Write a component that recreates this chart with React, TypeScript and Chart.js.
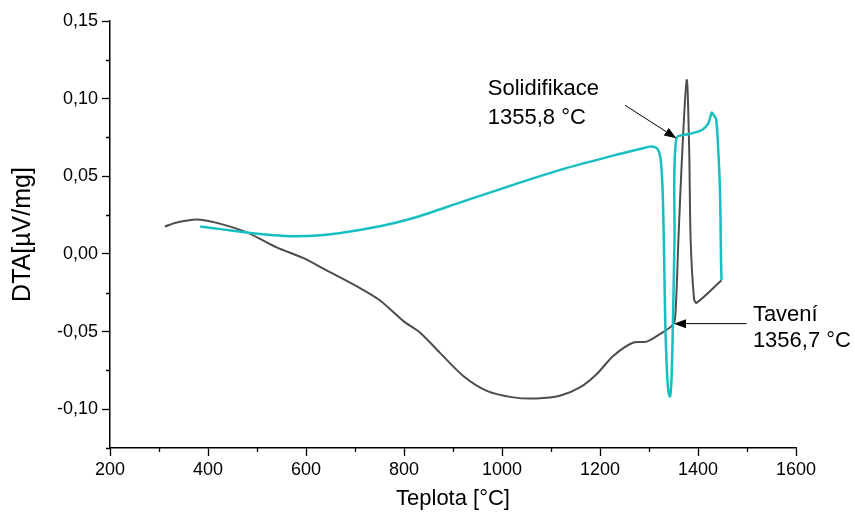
import { useEffect, useRef } from 'react';
import { Chart, registerables } from 'chart.js';

Chart.register(...registerables);

// Heating run (melting)
const heatT = [
  312, 340, 377, 418, 479, 540, 594, 649, 703, 751, 799, 833, 873, 921, 969,
  1023, 1071, 1118, 1159, 1193, 1227, 1267, 1295, 1322, 1346, 1353, 1360, 1367,
  1377, 1382, 1385, 1392, 1397, 1448,
];
const heatDTA = [
  0.0177, 0.0205, 0.0222, 0.02, 0.0139, 0.0042, -0.0026, -0.0118, -0.0208, -0.030,
  -0.0433, -0.0507, -0.0636, -0.0786, -0.0882, -0.0924, -0.0931, -0.0914, -0.086,
  -0.0775, -0.0657, -0.0572, -0.0565, -0.0517, -0.0465, -0.0424, 0.009, 0.06,
  0.112, 0.067, 0.009, -0.029, -0.0315, -0.017,
];

// Cooling run (solidification)
const coolT = [
  384, 430, 486, 530, 574, 630, 690, 751, 819, 921, 1023, 1124, 1227, 1282, 1302,
  1312, 1319, 1324, 1328, 1331, 1333, 1337, 1340, 1343, 1346, 1349, 1352, 1355.8,
  1382, 1408, 1421, 1428, 1432, 1437, 1441, 1445, 1447, 1448,
];
const coolDTA = [
  0.0177, 0.0158, 0.0135, 0.0122, 0.0113, 0.012, 0.0145, 0.0178, 0.0231, 0.0338,
  0.0445, 0.0546, 0.0633, 0.0676, 0.0691, 0.0688, 0.0668, 0.0605, 0.039, -0.004,
  -0.042, -0.078, -0.0895, -0.0918, -0.08, -0.042, 0.009, 0.0745, 0.0772, 0.0798,
  0.0841, 0.0909, 0.0895, 0.0867, 0.069, 0.039, -0.004, -0.0169,
];

const xMinorTicks = [300, 500, 700, 900, 1100, 1300, 1500];
const yMinorTicks = [0.125, 0.075, 0.025, -0.025, -0.075, -0.125];

const solidText = ['Solidifikace', '1355,8 °C'];
const meltText = ['Tavení', '1356,7 °C'];

// annotation anchors in data units: [temperature, DTA]
const solidTextAt = [971, 0.1022];
const meltTextAt = [1512, -0.0435];
const solidArrowFrom = [1251, 0.0958];
const solidArrowTo = [1355.8, 0.0745];
const meltArrowFrom = [1499, -0.0449];
const meltArrowTo = [1351, -0.0449];

const FONT = "'Liberation Sans', Arial, sans-serif";

const toPoints = (xs: number[], ys: number[]) => xs.map((x, i) => ({ x, y: ys[i] }));

// keep only ticks on the 0.05 grid (drops the -0.125 axis end)
const keepMajor = (scale: any) => {
  scale.ticks = scale.ticks.filter((t: any) => Math.abs(t.value / 0.05 - Math.round(t.value / 0.05)) < 1e-6);
};

const minorTickPlugin = {
  id: 'minorTicks',
  afterDraw(chart: any) {
    const { ctx, chartArea, scales } = chart;
    ctx.save();
    ctx.strokeStyle = '#000';
    ctx.lineWidth = 1.3;
    ctx.beginPath();
    xMinorTicks.forEach((v) => {
      const px = Math.round(scales.x.getPixelForValue(v)) + 0.5;
      ctx.moveTo(px, chartArea.bottom);
      ctx.lineTo(px, chartArea.bottom + 4);
    });
    yMinorTicks.forEach((v) => {
      const py = Math.round(scales.y.getPixelForValue(v)) + 0.5;
      ctx.moveTo(chartArea.left, py);
      ctx.lineTo(chartArea.left - 4, py);
    });
    ctx.stroke();
    ctx.restore();
  },
};

function drawArrow(ctx: CanvasRenderingContext2D, x1: number, y1: number, x2: number, y2: number) {
  const ang = Math.atan2(y2 - y1, x2 - x1);
  const headLen = 12;
  const headHalf = 4.5;
  const bx = x2 - headLen * Math.cos(ang);
  const by = y2 - headLen * Math.sin(ang);
  ctx.beginPath();
  ctx.moveTo(x1, y1);
  ctx.lineTo(bx, by);
  ctx.stroke();
  ctx.beginPath();
  ctx.moveTo(x2, y2);
  ctx.lineTo(bx + headHalf * Math.sin(ang), by - headHalf * Math.cos(ang));
  ctx.lineTo(bx - headHalf * Math.sin(ang), by + headHalf * Math.cos(ang));
  ctx.closePath();
  ctx.fill();
}

const annotationPlugin = {
  id: 'dtaAnnotations',
  afterDraw(chart: any) {
    const { ctx, scales } = chart;
    const px = (p: number[]) => [scales.x.getPixelForValue(p[0]), scales.y.getPixelForValue(p[1])];
    ctx.save();
    ctx.fillStyle = '#000';
    ctx.strokeStyle = '#000';
    ctx.lineWidth = 1;
    ctx.font = `22px ${FONT}`;
    ctx.textAlign = 'left';
    ctx.textBaseline = 'alphabetic';
    const [sx, sy] = px(solidTextAt);
    solidText.forEach((t, i) => ctx.fillText(t, sx, sy + i * 29));
    const [mx, my] = px(meltTextAt);
    meltText.forEach((t, i) => ctx.fillText(t, mx, my + i * 26));
    const [a1x, a1y] = px(solidArrowFrom);
    const [a2x, a2y] = px(solidArrowTo);
    drawArrow(ctx, a1x, a1y, a2x, a2y);
    const [b1x, b1y] = px(meltArrowFrom);
    const [b2x, b2y] = px(meltArrowTo);
    drawArrow(ctx, b1x, b1y, b2x, b2y);
    ctx.restore();
  },
};

export default function App() {
  const canvasRef = useRef<HTMLCanvasElement | null>(null);

  useEffect(() => {
    const canvas = canvasRef.current;
    if (!canvas) return;
    const chart = new Chart(canvas, {
      type: 'line',
      data: {
        datasets: [
          {
            label: 'Ohřev',
            data: toPoints(heatT, heatDTA),
            borderColor: '#4d4d4d',
            borderWidth: 2,
            pointRadius: 0,
            tension: 0.3,
            fill: false,
            order: 1,
          },
          {
            label: 'Chlazení',
            data: toPoints(coolT, coolDTA),
            borderColor: '#17bfc0',
            borderWidth: 2.5,
            pointRadius: 0,
            tension: 0.3,
            fill: false,
            order: 0,
          },
        ],
      },
      options: {
        animation: false,
        responsive: false,
        devicePixelRatio: 1,
        layout: { padding: { top: 21, right: 59, left: 0, bottom: 0 } },
        plugins: {
          legend: { display: false },
          tooltip: { enabled: false },
        },
        scales: {
          x: {
            type: 'linear',
            min: 200,
            max: 1600,
            ticks: {
              stepSize: 200,
              includeBounds: false,
              autoSkip: false,
              maxRotation: 0,
              padding: 3,
              color: '#000',
              font: { family: FONT, size: 18 },
              callback: (v: any) => String(v),
            },
            grid: {
              drawOnChartArea: false,
              drawTicks: true,
              tickLength: 8,
              color: '#000',
              tickWidth: 1.3,
            },
            border: { display: true, color: '#000', width: 1.5 },
            title: {
              display: true,
              text: 'Teplota [°C]',
              color: '#000',
              font: { family: FONT, size: 22 },
              padding: { top: 0, bottom: 4 },
            },
            afterFit: (s: any) => {
              s.height = 68;
            },
          },
          y: {
            type: 'linear',
            min: -0.125,
            max: 0.15,
            ticks: {
              stepSize: 0.05,
              includeBounds: true,
              autoSkip: false,
              padding: 4,
              color: '#000',
              font: { family: FONT, size: 18 },
              callback: (v: any) => Number(v).toFixed(2).replace('.', ','),
            },
            afterBuildTicks: keepMajor,
            grid: {
              drawOnChartArea: false,
              drawTicks: true,
              tickLength: 8,
              color: '#000',
              tickWidth: 1.3,
            },
            border: { display: true, color: '#000', width: 1.5 },
            title: {
              display: true,
              text: 'DTA[µV/mg]',
              color: '#000',
              font: { family: FONT, size: 25 },
              padding: { top: 8, bottom: 0 },
            },
            afterFit: (s: any) => {
              s.width = 110;
            },
          },
        },
      } as any,
      plugins: [minorTickPlugin, annotationPlugin],
    });
    return () => chart.destroy();
  }, []);

  return (
    <div style={{ position: 'absolute', left: 0, top: 0, width: 855, height: 516, background: '#fff' }}>
      <canvas ref={canvasRef} width={855} height={516} />
    </div>
  );
}
